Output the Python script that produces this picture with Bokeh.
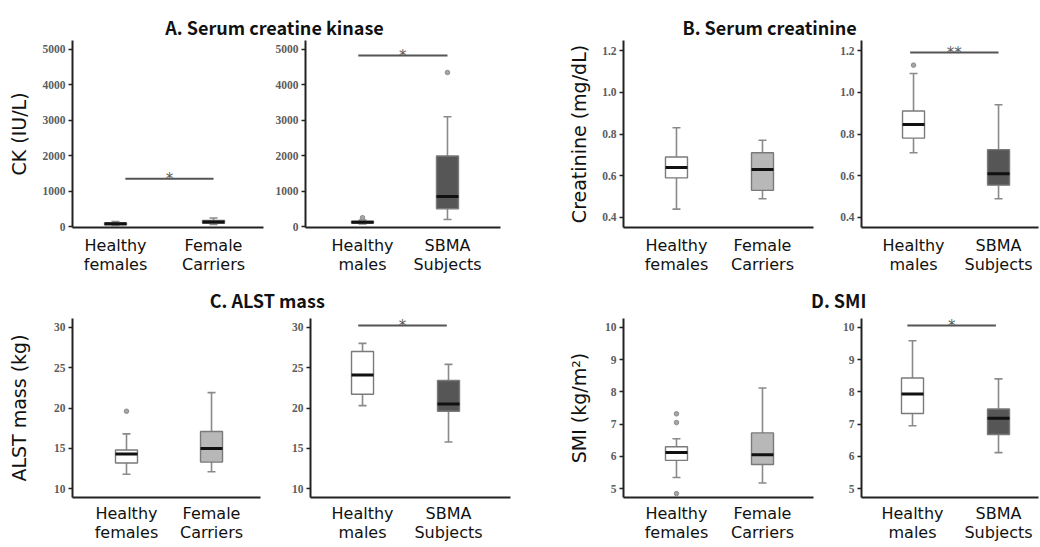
from bokeh.plotting import figure
from bokeh.layouts import row, column
from bokeh.models import Range1d, FixedTicker, Label, ColumnDataSource
from bokeh.embed import file_html
from bokeh.resources import INLINE
from bokeh.core.validation import silence
from bokeh.core.validation.warnings import MISSING_RENDERERS

silence(MISSING_RENDERERS, True)

# ---------------- data ----------------
female_groups = ["Healthy\nfemales", "Female\nCarriers"]
male_groups = ["Healthy\nmales", "SBMA\nSubjects"]

# five-number summaries: lower whisker, Q1, median, Q3, upper whisker
ck_healthy_females = [30, 50, 75, 100, 140]
ck_female_carriers = [60, 90, 130, 170, 240]
ck_healthy_males = [70, 95, 120, 150, 180]
ck_sbma = [200, 500, 850, 1990, 3100]
ck_female_outliers = [[], []]
ck_male_outliers = [[250], [4350]]
ck_ticks = [0, 1000, 2000, 3000, 4000, 5000]

cr_healthy_females = [0.44, 0.59, 0.64, 0.69, 0.83]
cr_female_carriers = [0.49, 0.53, 0.63, 0.71, 0.77]
cr_healthy_males = [0.71, 0.78, 0.845, 0.91, 1.09]
cr_sbma = [0.49, 0.555, 0.61, 0.725, 0.94]
cr_female_outliers = [[], []]
cr_male_outliers = [[1.13], []]
cr_ticks = [0.4, 0.6, 0.8, 1.0, 1.2]

alst_healthy_females = [11.8, 13.2, 14.3, 14.8, 16.8]
alst_female_carriers = [12.1, 13.3, 15.0, 17.1, 21.9]
alst_healthy_males = [20.3, 21.7, 24.1, 27.0, 28.0]
alst_sbma = [15.8, 19.6, 20.5, 23.4, 25.4]
alst_female_outliers = [[19.6], []]
alst_male_outliers = [[], []]
alst_ticks = [10, 15, 20, 25, 30]

smi_healthy_females = [5.35, 5.88, 6.12, 6.30, 6.55]
smi_female_carriers = [5.18, 5.75, 6.05, 6.73, 8.12]
smi_healthy_males = [6.95, 7.33, 7.93, 8.43, 9.58]
smi_sbma = [6.12, 6.68, 7.18, 7.47, 8.40]
smi_female_outliers = [[7.32, 7.05, 4.85], []]
smi_male_outliers = [[], []]
smi_ticks = [5, 6, 7, 8, 9, 10]

# significance marks: label, bar height
ck_female_sig = ["*", 1350]
ck_male_sig = ["*", 4830]
cr_male_sig = ["**", 1.19]
alst_male_sig = ["*", 30.2]
smi_male_sig = ["*", 10.05]

# ---------------- style ----------------
WHITE = "#ffffff"
LIGHT = "#b8b8b8"
DARK = "#565656"
BOX_LINE = "#7a7a7a"
WHISK = "#8a8a8a"
AXIS = "#222222"
TITLE_FONT = "Noto Sans CJK JP"
LABEL_FONT = "DejaVu Sans"


def subplot(groups, stats, outliers, fills, ticks, yr, xr, width, height,
            bl, br, bt, bb, ylabel=None, lab_standoff=10, sig=None,
            sig_span=None, fmt="{:g}", x_standoff=8):
    p = figure(width=width, height=height, x_range=Range1d(*xr),
               y_range=Range1d(*yr), toolbar_location=None,
               output_backend="svg", min_border_left=bl, min_border_right=br,
               min_border_top=bt, min_border_bottom=bb)
    xs = [i + 1 for i in range(len(groups))]
    src = ColumnDataSource(dict(
        x=xs,
        low=[s[0] for s in stats],
        q1=[s[1] for s in stats],
        med=[s[2] for s in stats],
        q3=[s[3] for s in stats],
        high=[s[4] for s in stats],
        mid=[(s[1] + s[3]) / 2 for s in stats],
        h=[s[3] - s[1] for s in stats],
        fill=fills,
    ))
    p.segment(x0="x", y0="q3", x1="x", y1="high", source=src,
              line_color=WHISK, line_width=1.6)
    p.segment(x0="x", y0="low", x1="x", y1="q1", source=src,
              line_color=WHISK, line_width=1.6)
    p.scatter(x="x", y="high", source=src, marker="dash", size=8,
              line_color=WHISK, line_width=1.6)
    p.scatter(x="x", y="low", source=src, marker="dash", size=8,
              line_color=WHISK, line_width=1.6)
    p.rect(x="x", y="mid", width=22, width_units="screen", height="h",
           source=src, fill_color="fill", line_color=BOX_LINE, line_width=1.4)
    p.scatter(x="x", y="med", source=src, marker="dash", size=22,
              line_color="#111111", line_width=3)
    ox = [xs[i] for i, lst in enumerate(outliers) for _ in lst]
    oy = [v for lst in outliers for v in lst]
    if ox:
        p.scatter(ox, oy, size=4.5, fill_color="#a5a5a5",
                  line_color="#8c8c8c", line_width=1)
    if sig is not None:
        p.segment(x0=[sig_span[0]], y0=[sig[1]], x1=[sig_span[1]],
                  y1=[sig[1]], line_color="#555555", line_width=2)
        p.add_layout(Label(x=(sig_span[0] + sig_span[1]) / 2, y=sig[1],
                           text=sig[0], text_align="center",
                           text_baseline="middle", text_font="DejaVu Sans",
                           text_font_size="15px", text_color="#5a5a5a"))

    p.grid.visible = False
    p.outline_line_color = None
    p.background_fill_color = "white"
    p.border_fill_color = "white"

    xa = p.xaxis[0]
    xa.ticker = FixedTicker(ticks=xs)
    xa.major_label_overrides = {x: g for x, g in zip(xs, groups)}
    xa.major_tick_line_color = None
    xa.major_tick_out = 0
    xa.major_tick_in = 0
    xa.minor_tick_line_color = None
    xa.minor_tick_out = 0
    xa.axis_label_standoff = 0
    xa.axis_line_width = 2
    xa.axis_line_color = AXIS
    xa.major_label_text_font = LABEL_FONT
    xa.major_label_text_font_size = "16px"
    xa.major_label_text_line_height = 1.0
    xa.major_label_text_color = "#111111"
    xa.major_label_standoff = x_standoff

    ya = p.yaxis[0]
    ya.ticker = FixedTicker(ticks=ticks)
    ya.major_label_overrides = {t: fmt.format(t) for t in ticks}
    ya.minor_tick_line_color = None
    ya.major_tick_in = 0
    ya.major_tick_out = 4
    ya.major_tick_line_width = 1.5
    ya.major_tick_line_color = AXIS
    ya.axis_line_width = 2
    ya.axis_line_color = AXIS
    ya.major_label_text_font = "Liberation Serif"
    ya.major_label_text_font_style = "bold"
    ya.major_label_text_font_size = "11.5px"
    ya.major_label_text_color = "#5c5c5c"
    ya.major_label_standoff = 3
    if ylabel:
        ya.axis_label = ylabel
        ya.axis_label_text_font = LABEL_FONT
        ya.axis_label_text_font_style = "normal"
        ya.axis_label_text_font_size = "19px"
        ya.axis_label_text_color = "#111111"
        ya.axis_label_standoff = lab_standoff
    return p


def title_fig(text, width, height, tx, ty):
    p = figure(width=width, height=height, x_range=Range1d(0, 1),
               y_range=Range1d(0, 1), toolbar_location=None,
               output_backend="svg", min_border=0)
    p.axis.visible = False
    p.grid.visible = False
    p.outline_line_color = None
    p.add_layout(Label(x=tx, y=ty, text=text, text_align="center",
                       text_baseline="middle", text_font=TITLE_FONT,
                       text_font_size="18px", text_font_style="bold",
                       text_color="#111111"))
    return p


TOP_H, BOT_H = 241, 234
A_YR = (-28, 5254)
B_YR = (0.352, 1.248)
C_YR = (8.92, 31.08)
D_YR = (4.73, 10.27)

a1 = subplot(female_groups, [ck_healthy_females, ck_female_carriers],
             ck_female_outliers, [WHITE, LIGHT], ck_ticks, A_YR,
             (0.561, 2.510), 270, TOP_H, 72, 7, 1, 53, ylabel="CK (IU/L)",
             lab_standoff=10, sig=ck_female_sig, sig_span=(1.1, 2.0))
a2 = subplot(male_groups, [ck_healthy_males, ck_sbma], ck_male_outliers,
             [WHITE, DARK], ck_ticks, A_YR, (0.329, 2.624), 250, TOP_H,
             35, 20, 1, 53, sig=ck_male_sig, sig_span=(0.95, 2.0))
b1 = subplot(female_groups, [cr_healthy_females, cr_female_carriers],
             cr_female_outliers, [WHITE, LIGHT], cr_ticks, B_YR,
             (0.384, 2.593), 308, TOP_H, 103, 15, 1, 53,
             ylabel="Creatinine (mg/dL)", lab_standoff=9, fmt="{:.1f}")
b2 = subplot(male_groups, [cr_healthy_males, cr_sbma], cr_male_outliers,
             [WHITE, DARK], cr_ticks, B_YR, (0.388, 2.47), 212, TOP_H,
             33, 2, 1, 53, sig=cr_male_sig, sig_span=(0.96, 2.0),
             fmt="{:.1f}")
c1 = subplot(female_groups, [alst_healthy_females, alst_female_carriers],
             alst_female_outliers, [WHITE, LIGHT], alst_ticks, C_YR,
             (0.365, 2.576), 280, BOT_H, 72, 20, 5, 50,
             ylabel="ALST mass (kg)", lab_standoff=21, x_standoff=6)
c2 = subplot(male_groups, [alst_healthy_males, alst_sbma], alst_male_outliers,
             [WHITE, DARK], alst_ticks, C_YR, (0.395, 2.721), 240, BOT_H,
             30, 10, 5, 50, sig=alst_male_sig, sig_span=(0.95, 1.98),
             x_standoff=6)
d1 = subplot(female_groups, [smi_healthy_females, smi_female_carriers],
             smi_female_outliers, [WHITE, LIGHT], smi_ticks, D_YR,
             (0.384, 2.593), 308, BOT_H, 103, 15, 5, 50,
             ylabel="SMI (kg/m²)", lab_standoff=12, x_standoff=6)
d2 = subplot(male_groups, [smi_healthy_males, smi_sbma], smi_male_outliers,
             [WHITE, DARK], smi_ticks, D_YR, (0.407, 2.465), 212, BOT_H,
             33, 2, 5, 50, sig=smi_male_sig, sig_span=(0.94, 1.97),
             x_standoff=6)

ta = title_fig("A. Serum creatine kinase", 520, 39, 0.527, 0.333)
tb = title_fig("B. Serum creatinine", 520, 39, 0.479, 0.333)
tc = title_fig("C. ALST mass", 520, 33, 0.513, 0.394)
td = title_fig("D. SMI", 520, 33, 0.612, 0.394)

layout = column(
    row(column(ta, row(a1, a2, spacing=0), spacing=0),
        column(tb, row(b1, b2, spacing=0), spacing=0), spacing=0),
    row(column(tc, row(c1, c2, spacing=0), spacing=0),
        column(td, row(d1, d2, spacing=0), spacing=0), spacing=0),
    spacing=0,
)

open("out.html", "w").write(file_html(layout, INLINE))
